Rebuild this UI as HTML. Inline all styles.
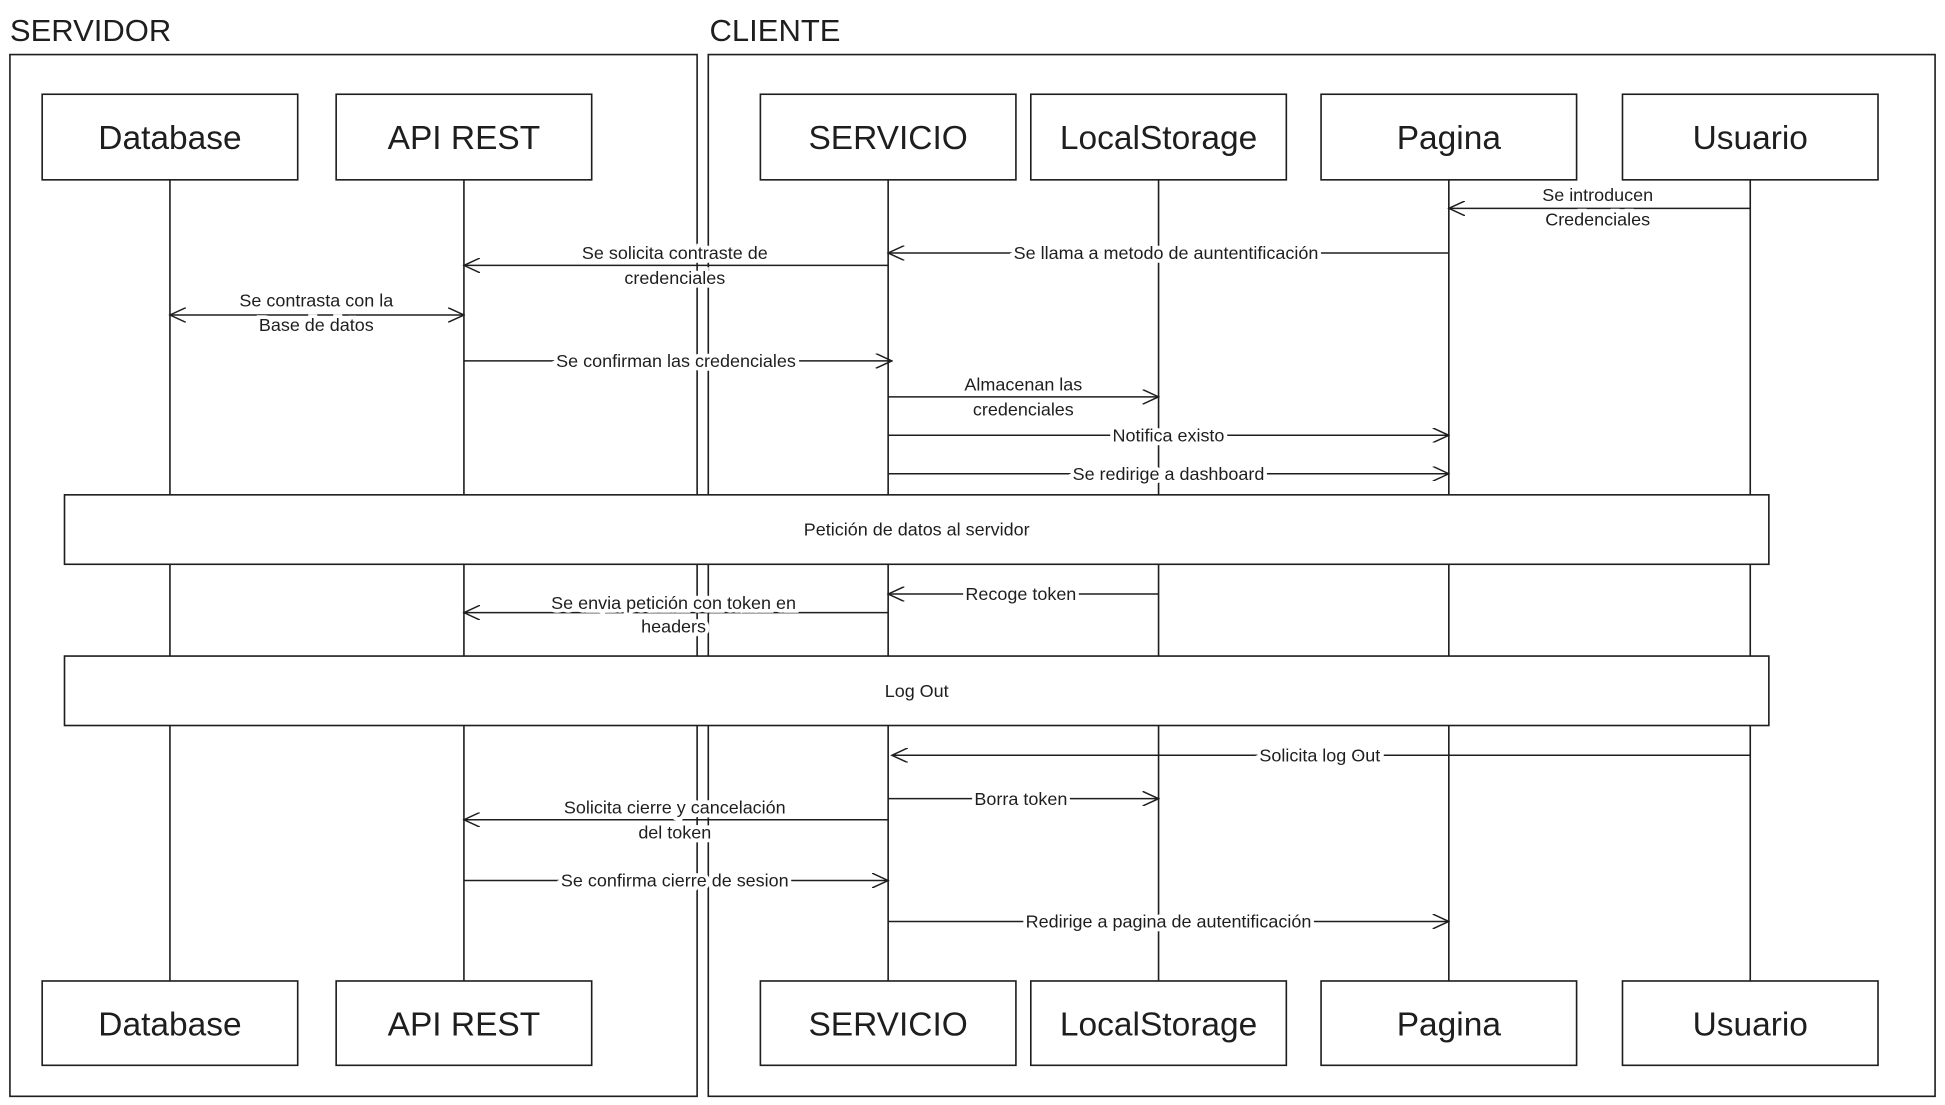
<!DOCTYPE html>
<html><head><meta charset="utf-8"><style>
html,body{margin:0;padding:0;background:#fff}
svg{display:block}
text{font-family:"Liberation Sans",sans-serif;fill:#1e1e1e}
.b{font-size:27px}
.m{font-size:14.5px}
</style></head><body>
<svg width="1945" height="1105" viewBox="0 0 1568 891" preserveAspectRatio="none" xmlns="http://www.w3.org/2000/svg">
<defs>
<marker id="a" markerWidth="14" markerHeight="12" refX="13" refY="6" orient="auto" markerUnits="userSpaceOnUse">
<path d="M0,0 L13,6 L0,12" fill="none" stroke="#1e1e1e" stroke-width="1.2"/></marker>
<marker id="s" markerWidth="14" markerHeight="12" refX="1" refY="6" orient="auto" markerUnits="userSpaceOnUse">
<path d="M14,0 L1,6 L14,12" fill="none" stroke="#1e1e1e" stroke-width="1.2"/></marker>
</defs>
<g fill="none" stroke="#1e1e1e" stroke-width="1.3">
<rect x="8" y="44" width="554" height="840"/>
<rect x="571" y="44" width="989" height="840"/>
<line x1="137" y1="145" x2="137" y2="791"/>
<line x1="374" y1="145" x2="374" y2="791"/>
<line x1="716" y1="145" x2="716" y2="791"/>
<line x1="934" y1="145" x2="934" y2="791"/>
<line x1="1168" y1="145" x2="1168" y2="791"/>
<line x1="1411" y1="145" x2="1411" y2="791"/>
</g>
<g fill="#fff" stroke="#1e1e1e" stroke-width="1.3">
<rect x="34" y="76" width="206" height="69"/><rect x="271" y="76" width="206" height="69"/>
<rect x="613" y="76" width="206" height="69"/><rect x="831" y="76" width="206" height="69"/>
<rect x="1065" y="76" width="206" height="69"/><rect x="1308" y="76" width="206" height="69"/>
<rect x="34" y="791" width="206" height="68"/><rect x="271" y="791" width="206" height="68"/>
<rect x="613" y="791" width="206" height="68"/><rect x="831" y="791" width="206" height="68"/>
<rect x="1065" y="791" width="206" height="68"/><rect x="1308" y="791" width="206" height="68"/>
<rect x="52" y="399" width="1374" height="56"/>
<rect x="52" y="529" width="1374" height="56"/>
</g>
<text x="8" y="33" style="font-size:25px">SERVIDOR</text>
<text x="572" y="33" style="font-size:25px">CLIENTE</text>
<g class="b" text-anchor="middle">
<text x="137" y="120">Database</text><text x="374" y="120">API REST</text>
<text x="716" y="120">SERVICIO</text><text x="934" y="120">LocalStorage</text>
<text x="1168" y="120">Pagina</text><text x="1411" y="120">Usuario</text>
<text x="137" y="835">Database</text><text x="374" y="835">API REST</text>
<text x="716" y="835">SERVICIO</text><text x="934" y="835">LocalStorage</text>
<text x="1168" y="835">Pagina</text><text x="1411" y="835">Usuario</text>
</g>
<g fill="none" stroke="#1e1e1e" stroke-width="1.2">
<line x1="1411" y1="168" x2="1168" y2="168" marker-end="url(#a)"/>
<line x1="1168" y1="204" x2="716" y2="204" marker-end="url(#a)"/>
<line x1="716" y1="214" x2="374" y2="214" marker-end="url(#a)"/>
<line x1="137" y1="254" x2="374" y2="254" marker-end="url(#a)" marker-start="url(#s)"/>
<line x1="374" y1="291" x2="719" y2="291" marker-end="url(#a)"/>
<line x1="716" y1="320" x2="934" y2="320" marker-end="url(#a)"/>
<line x1="716" y1="351" x2="1168" y2="351" marker-end="url(#a)"/>
<line x1="716" y1="382" x2="1168" y2="382" marker-end="url(#a)"/>
<line x1="934" y1="479" x2="716" y2="479" marker-end="url(#a)"/>
<line x1="716" y1="494" x2="374" y2="494" marker-end="url(#a)"/>
<line x1="1411" y1="609" x2="719" y2="609" marker-end="url(#a)"/>
<line x1="716" y1="644" x2="934" y2="644" marker-end="url(#a)"/>
<line x1="716" y1="661" x2="374" y2="661" marker-end="url(#a)"/>
<line x1="374" y1="710" x2="716" y2="710" marker-end="url(#a)"/>
<line x1="716" y1="743" x2="1168" y2="743" marker-end="url(#a)"/>
</g>
<g class="m" text-anchor="middle" stroke="#fff" stroke-width="6" paint-order="stroke">
<text x="1288" y="162">Se introducen</text><text x="1288" y="182">Credenciales</text>
<text x="940" y="209">Se llama a metodo de auntentificación</text>
<text x="544" y="209">Se solicita contraste de</text><text x="544" y="229">credenciales</text>
<text x="255" y="247">Se contrasta con la</text><text x="255" y="267">Base de datos</text>
<text x="545" y="296">Se confirman las credenciales</text>
<text x="825" y="315">Almacenan las</text><text x="825" y="335">credenciales</text>
<text x="942" y="356">Notifica existo</text>
<text x="942" y="387">Se redirige a dashboard</text>
<text x="823" y="484">Recoge token</text>
<text x="543" y="491">Se envia petición con token en</text><text x="543" y="510">headers</text>
<text x="1064" y="614">Solicita log Out</text>
<text x="823" y="649">Borra token</text>
<text x="544" y="656">Solicita cierre y cancelación</text><text x="544" y="676">del token</text>
<text x="544" y="715">Se confirma cierre de sesion</text>
<text x="942" y="748">Redirige a pagina de autentificación</text>
</g>
<g class="m" text-anchor="middle">
<text x="739" y="432">Petición de datos al servidor</text>
<text x="739" y="562">Log Out</text>
</g>
</svg>
</body></html>
